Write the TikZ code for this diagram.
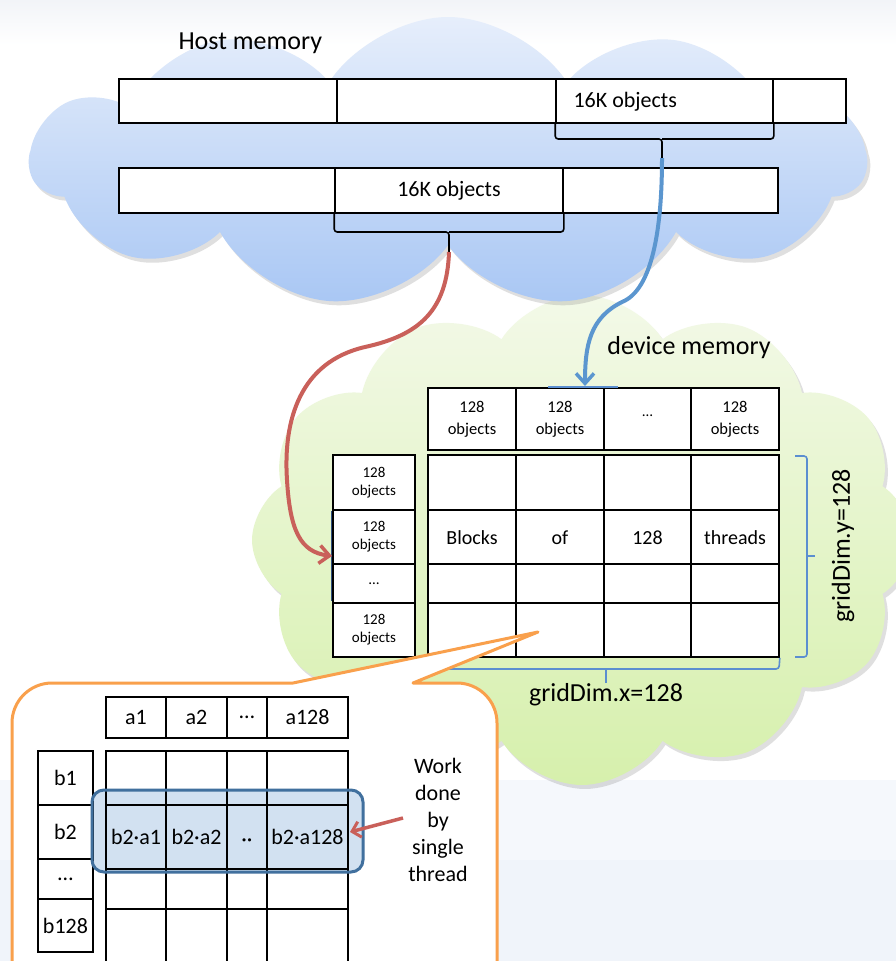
\documentclass[tikz,border=0pt]{standalone}
\usepackage{fontspec}
\setmainfont{Carlito}
\usetikzlibrary{shapes.symbols,shadows,arrows.meta,calc}
\definecolor{hostTop}{HTML}{E6EEFB}
\definecolor{hostBot}{HTML}{A9C7F4}
\definecolor{devTop}{HTML}{F3F9E8}
\definecolor{devBot}{HTML}{D6F0AC}
\definecolor{redc}{HTML}{C9605A}
\definecolor{bluec}{HTML}{5B96CF}
\definecolor{bracec}{HTML}{5B8ED0}
\definecolor{orangec}{HTML}{F9A04C}
\definecolor{hlborder}{HTML}{41709E}
\definecolor{hlfill}{HTML}{D2E1F1}
\definecolor{navy}{HTML}{2F4F7F}
\definecolor{bgA}{HTML}{F5F8FC}
\definecolor{bgB}{HTML}{F0F4FA}
\definecolor{bgTop}{HTML}{F2F4F8}
\newcommand\mkcell[7][]{%
  \node[cell,#1,minimum width={(#5-#3)*1pt},minimum height={(#6-#4)*1pt}] (#2) at ({(#3+#5)/2},{(#4+#6)/2}) {#7};}
\begin{document}
\begin{tikzpicture}[x=1pt,y=-1pt,
  cell/.style={draw,line width=1.6pt,fill=white,inner sep=0pt,align=center},
  fbig/.style={font=\fontsize{26}{30}\selectfont},
  fmid/.style={font=\fontsize{22}{27}\selectfont},
  fgrid/.style={font=\fontsize{20}{24}\selectfont},
  fhdr/.style={font=\fontsize{16.5}{22}\selectfont},
  fsml/.style={font=\fontsize{15}{18}\selectfont},
  bbrace/.style={draw=black,line width=1.6pt,rounded corners=3pt},
  gbrace/.style={draw=bracec,line width=1.6pt,rounded corners=3pt},
  conn/.style={line width=4pt,-{Straight Barb[length=10pt,width=18pt,line width=3.5pt]}},
]
\useasboundingbox (0,0) rectangle (896,961);
\clip (0,0) rectangle (896,961);
% background
\fill[white] (0,0) rectangle (896,961);
\fill[top color=bgTop,bottom color=white] (0,0) rectangle (896,45);
\fill[bgA] (0,780) rectangle (896,860);
\fill[bgB] (0,860) rectangle (896,961);
% clouds
\node[cloud,cloud puffs=12,cloud puff arc=115,cloud ignores aspect,
  minimum width=660pt,minimum height=490pt,top color=devTop,bottom color=devBot,
  drop shadow={shadow xshift=3pt,shadow yshift=-4pt,opacity=0.25}] (dev) at (582,540) {};
\node[cloud,cloud puffs=11,cloud puff arc=115,cloud ignores aspect,
  minimum width=835pt,minimum height=290pt,top color=hostTop,bottom color=hostBot,
  drop shadow={shadow xshift=3pt,shadow yshift=-4pt,opacity=0.25}] (host) at (448,162) {};
\node[fbig,anchor=west] (hostlbl) at (175,43) {Host memory};
% host bars
\mkcell{h1a}{119}{79}{337}{123}{}
\mkcell{h1b}{337}{79}{556}{123}{}
\mkcell{h1c}{556}{79}{773}{123}{}
\mkcell{h1d}{773}{79}{846}{123}{}
\node[fmid,anchor=west] (h1t) at (570,102) {16K objects};
\mkcell{h2a}{119}{168}{335}{213}{}
\mkcell[fmid]{h2b}{335}{168}{563}{213}{16K objects}
\mkcell{h2c}{563}{168}{778}{213}{}
% braces
\coordinate (br1) at (662,139);
\coordinate (br1tip) at (662,158);
\draw[bbrace] (h1c.south west) |- (br1) -- (br1tip);
\draw[bbrace] (h1c.south east) |- (br1);
\coordinate (br2) at (449,232);
\coordinate (br2tip) at (449,252);
\draw[bbrace] (h2b.south west) |- (br2) -- (br2tip);
\draw[bbrace] (h2b.south east) |- (br2);
% device memory
\node[fbig] (devlbl) at (689,348) {device memory};
\mkcell[fhdr]{t1}{428}{388}{516}{450}{128\\objects}
\mkcell[fhdr]{t2}{516}{388}{604}{450}{128\\objects}
\mkcell[fsml]{t3}{604}{388}{691}{450}{\raisebox{6pt}{…}}
\mkcell[fhdr]{t4}{691}{388}{779}{450}{128\\objects}
\mkcell[fsml]{l1}{333}{455}{415}{510}{128\\objects}
\mkcell[fsml]{l2}{333}{510}{415}{564}{128\\objects}
\mkcell[fsml]{l3}{333}{564}{415}{603}{…}
\mkcell[fsml]{l4}{333}{603}{415}{657}{128\\objects}
\foreach \ya/\yb/\r in {455/510/1,510/564/2,564/603/3,603/657/4}{
  \foreach \xa/\xb/\c in {428/516/1,516/604/2,604/691/3,691/779/4}{
    \mkcell[fgrid]{g\r\c}{\xa}{\ya}{\xb}{\yb}{}
  }}
\node[fgrid] (w1) at ([yshift=-1pt]g21) {Blocks};
\node[fgrid] (w2) at ([yshift=-1pt]g22) {of};
\node[fgrid] (w3) at ([yshift=-1pt]g23) {128};
\node[fgrid] (w4) at ([yshift=-1pt]g24) {threads};
% blue braces of device grid
\draw[gbrace] (795,456) -- (807,456) -- (807,657) -- (795,657);
\draw[gbrace,rounded corners=0pt] (807,556) -- (815,556);
\node[fbig,rotate=90] (gy) at (843,546) {gridDim.y=128};
\draw[gbrace] (428,669) -- (779,669) -- (g44.south east);
\draw[gbrace,rounded corners=0pt] (606,669) -- (606,683);
\node[fbig] (gx) at (606,695) {gridDim.x=128};
% connector brackets
\coordinate (btop1) at (548,387);
\coordinate (btop2) at (618,387);
\draw[bracec,line width=1.6pt] (btop1) -- (btop2);
\coordinate (bl1) at (331,511);
\coordinate (bl2) at (331,601);
\draw[navy,line width=1pt] (bl1) -- (bl2);
% connectors
\coordinate (bluetip) at (585,386);
\draw[conn,bluec] (br1tip) .. controls (662,230) and (652,290) .. (622,302)
  .. controls (590,318) and (585,345) .. (bluetip);
\coordinate (redtip) at (332,556);
\draw[conn,redc] (br2tip) .. controls (447,310) and (420,335) .. (365,347)
  .. controls (300,362) and (283,420) .. (287,480)
  .. controls (290,530) and (300,552) .. (redtip);
% callout
\draw[orangec,line width=3pt,fill=white,line join=round]
  (293,683) -- (538,632) -- (413,683) -- (457,683)
  arc[start angle=-90,end angle=0,radius=40] -- (497,1000) -- (12,1000) -- (12,723)
  arc[start angle=180,end angle=270,radius=40] -- cycle;
\fill[hlfill,rounded corners=12pt] (92,790) rectangle (363,872);
\mkcell[fmid]{a1}{106}{697}{166}{738}{a1}
\mkcell[fmid]{a2}{166}{697}{227}{738}{a2}
\mkcell[fmid]{a3}{227}{697}{267}{738}{…}
\mkcell[fmid]{a4}{267}{697}{348}{738}{a128}
\mkcell[fmid]{b1}{38}{751}{93}{805}{b1}
\mkcell[fmid]{b2}{38}{805}{93}{859}{b2}
\mkcell[fmid]{b3}{38}{859}{93}{899}{…}
\mkcell[fmid]{b4}{38}{899}{93}{952}{b128}
\foreach \ya/\yb/\r in {751/805/1,805/869/2,869/909/3,909/990/4}{
  \foreach \xa/\xb/\c in {106/166/1,166/227/2,227/267/3,267/348/4}{
    \mkcell[fmid,fill=none]{m\r\c}{\xa}{\ya}{\xb}{\yb}{}
  }}
\node[fmid] (p1) at (m21) {b2·a1};
\node[fmid] (p2) at (m22) {b2·a2};
\node[fmid] (p3) at ([yshift=-6pt]m23) {··};
\node[fmid] (p4) at (m24) {b2·a128};
\draw[hlborder,line width=3pt,rounded corners=12pt] (92,790) rectangle (363,872);
\node[fmid,align=center,font=\fontsize{22}{26.8}\selectfont] (work) at (438,820) {Work\\done\\by\\single\\thread};
\coordinate (wa) at (403,818);
\draw[redc,line width=3.5pt,-{Straight Barb[length=8pt,width=16pt,line width=3pt]}] (wa) -- (350,832);
\end{tikzpicture}
\end{document}
